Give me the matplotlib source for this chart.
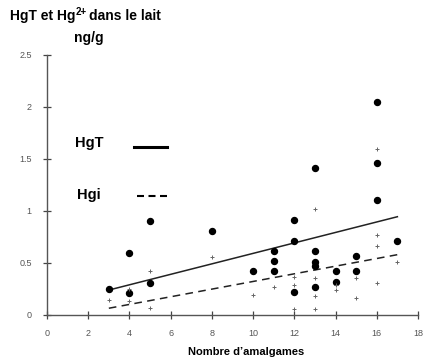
import matplotlib
matplotlib.use("Agg")
import matplotlib.pyplot as plt

# HgT (filled dots)
hgt_x = [3, 4, 4, 5, 5, 8, 10, 11, 11, 11, 12, 12, 12, 13, 13, 13, 13, 13, 14, 14, 15, 15, 16, 16, 16, 17]
hgt_y = [0.25, 0.60, 0.21, 0.31, 0.90, 0.81, 0.42, 0.62, 0.52, 0.42, 0.91, 0.71, 0.22,
         1.41, 0.62, 0.51, 0.47, 0.27, 0.42, 0.32, 0.57, 0.42, 2.05, 1.46, 1.11, 0.71]
# Hgi (small crosses)
hgi_x = [3, 4, 4, 5, 5, 8, 10, 11, 12, 12, 12, 13, 13, 13, 13, 14, 14, 15, 15, 16, 16, 16, 16, 17]
hgi_y = [0.14, 0.25, 0.13, 0.42, 0.07, 0.56, 0.19, 0.27, 0.37, 0.29, 0.06, 1.02, 0.36, 0.18, 0.06,
         0.29, 0.24, 0.36, 0.16, 1.60, 0.77, 0.66, 0.31, 0.51]
# regression lines (end points)
fit_x = [3, 17]
hgt_fit = [0.24, 0.945]
hgi_fit = [0.065, 0.58]

xticks = [0, 2, 4, 6, 8, 10, 12, 14, 16, 18]
yticks = [0, 0.5, 1, 1.5, 2, 2.5]
ytick_labels = ["0", "0.5", "1", "1.5", "2", "2.5"]

plt.rcParams['font.family'] = ['Liberation Sans', 'DejaVu Sans']
fig = plt.figure(figsize=(4.23, 3.64), dpi=100)
ax = fig.add_axes([47/423, 49/364, 371/423, 260/364])

ax.plot(fit_x, hgt_fit, color='#222222', lw=1.1)
ax.plot(fit_x, hgi_fit, color='#222222', lw=1.1, ls=(0, (5, 3.5)))
ax.plot(hgt_x, hgt_y, 'o', color='black', ms=4.3, mec='black')
ax.plot(hgi_x, hgi_y, '+', color='#666666', ms=3.5, mew=0.7)

ax.set_xlim(0, 18)
ax.set_ylim(0, 2.5)
ax.set_xticks(xticks)
ax.set_yticks(yticks)
ax.set_yticklabels(ytick_labels)
for s in ['top', 'right']:
    ax.spines[s].set_visible(False)
for s in ['left', 'bottom']:
    ax.spines[s].set_color('#555555')
    ax.spines[s].set_linewidth(1.0)
ax.tick_params(axis='both', direction='inout', length=6, width=0.9, color='#444444',
               labelsize=6.5, labelcolor='#555555')
ax.tick_params(axis='x', pad=7)
ax.tick_params(axis='y', pad=8)

# legend text
fig.text(75/423, 1 - 143/364, "HgT", fontsize=10.5, fontweight='bold', va='center', ha='left')
fig.text(77/423, 1 - 195/364, "Hgi", fontsize=10.5, fontweight='bold', va='center', ha='left')
fig.add_artist(plt.Line2D([134/423, 167/423], [1 - 147/364, 1 - 147/364], color='black', lw=2.2))
fig.add_artist(plt.Line2D([137/423, 167/423], [1 - 196/364, 1 - 196/364], color='black', lw=1.5,
                          ls=(0, (3.36, 2.16))))

# title with superscript
t1 = fig.text(10/423, 1 - 16/364, "HgT et Hg", fontsize=10, fontweight='bold', ha='left', va='center')
fig.canvas.draw()
bb = t1.get_window_extent()
sup = fig.text(bb.x1 / 423, 1 - 12/364, "2+", fontsize=7, fontweight='bold', ha='left', va='center')
fig.canvas.draw()
bb2 = sup.get_window_extent()
fig.text(bb2.x1 / 423 + 2/423, 1 - 16/364, "dans le lait", fontsize=10, fontweight='bold',
         ha='left', va='center')
fig.text(89/423, 1 - 38/364, "ng/g", fontsize=10, fontweight='bold', ha='center', va='center')
fig.text(246/423, 1 - 352/364, "Nombre d\u2019amalgames", fontsize=8, fontweight='bold',
         ha='center', va='center')

fig.savefig("out.png", dpi=100)
